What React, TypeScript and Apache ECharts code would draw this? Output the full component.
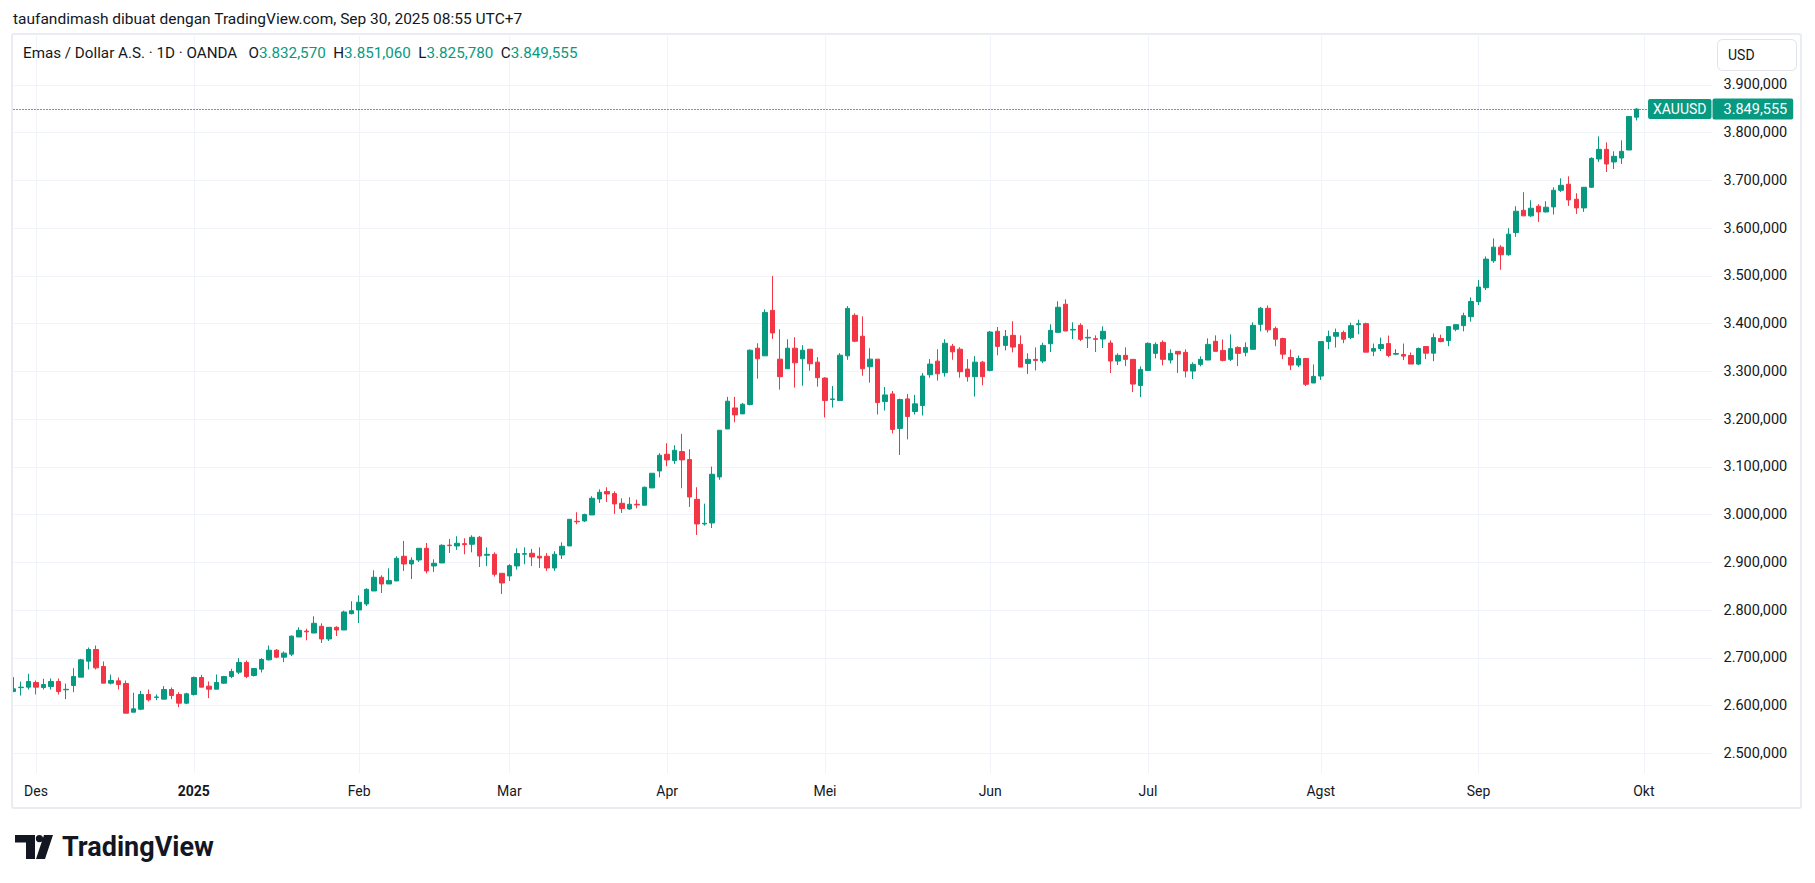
import React, { useEffect, useRef } from "react";
import * as echarts from "echarts";

// ---------- data: daily candles [open, close, low, high], XAUUSD (OANDA) ----------
const nov24 = [
  [2629.5, 2635, 2628, 2659.5], [2637.5, 2638.5, 2621, 2650], [2638.5, 2650.4, 2633.6, 2666.5],
];
const dec24 = [
  [2648.3, 2638.5, 2623.2, 2652.5], [2637.8, 2644, 2633.6, 2656], [2640, 2650.4, 2633.6, 2656.7],
  [2650.4, 2629.4, 2623.2, 2656.7], [2633, 2634, 2613.4, 2646], [2642, 2660.9, 2628, 2678.3],
  [2659.5, 2695.8, 2659.5, 2697.9], [2693, 2717.5, 2675.6, 2721.7], [2717.5, 2679, 2675.6, 2725.8],
  [2681.8, 2646.9, 2646.9, 2692.3], [2646.9, 2652.5, 2644.1, 2665], [2651.8, 2644.1, 2633.6, 2658.8],
  [2646.2, 2584, 2584, 2652.5], [2586.1, 2593.1, 2586.1, 2626.7], [2592.4, 2623.2, 2590.3, 2630.8],
  [2623.2, 2612, 2608.5, 2633.6], [2617, 2618, 2611.3, 2623.2], [2613.4, 2633.6, 2613.4, 2640.6],
  [2633.6, 2621, 2613.4, 2637.8], [2623.2, 2605, 2596.6, 2628], [2605, 2624.6, 2602.9, 2626.7],
];
const jan25 = [
  [2623.2, 2658.8, 2621, 2660.9], [2658.8, 2638.5, 2638.5, 2664.4], [2640.6, 2634.3, 2615.5, 2650.4],
  [2634.3, 2648.3, 2634.3, 2665], [2646.9, 2660.9, 2645.5, 2662], [2660.9, 2671.4, 2657.4, 2677],
  [2670, 2690.2, 2665.8, 2699.3], [2690.2, 2660.9, 2657.4, 2694.4], [2663, 2677.6, 2660.9, 2678.5],
  [2676.3, 2696.5, 2669.3, 2699.3], [2695.8, 2716, 2694.4, 2725.8], [2716, 2701.4, 2699.3, 2718.2],
  [2701.4, 2709.8, 2690.9, 2713.3], [2707.7, 2745.4, 2703.5, 2746.8], [2743.6, 2757.6, 2743.6, 2763.9],
  [2756, 2754.5, 2736.7, 2761], [2752, 2772.3, 2752, 2787], [2766, 2739.5, 2731, 2772.3],
  [2739.5, 2763.9, 2735.3, 2763.9], [2763.9, 2758.3, 2745.7, 2766], [2758.3, 2796, 2758.3, 2798.8],
  [2792.5, 2798.8, 2791, 2818.4],
];
const feb25 = [
  [2800.2, 2816.3, 2773, 2831], [2812.8, 2843.5, 2808.6, 2845.6], [2840, 2868.7, 2840, 2883.3],
  [2868.7, 2854.7, 2835.8, 2872.9], [2854.7, 2861.7, 2854.7, 2887.5], [2861, 2908.5, 2861, 2912.7],
  [2912.7, 2896.6, 2882, 2944.8], [2896.6, 2904.3, 2865.2, 2910.6], [2905, 2929.4, 2900.8, 2929.4],
  [2929.4, 2882, 2877, 2940.6], [2892.4, 2898, 2880, 2906.4], [2898.7, 2935.7, 2898.7, 2937.8],
  [2936, 2935, 2919.7, 2949], [2934.3, 2940, 2926, 2954.6], [2939.2, 2937, 2917, 2950.4],
  [2937.8, 2952.5, 2921, 2956.7], [2952.5, 2913.4, 2890.3, 2955.3], [2914.8, 2916.9, 2892.4, 2931.5],
  [2916.9, 2875, 2870.1, 2921], [2877, 2856.8, 2833.8, 2877],
];
const mar25 = [
  [2871.5, 2893.1, 2861, 2896], [2892.4, 2918.3, 2884.7, 2929.4], [2917, 2918.3, 2896, 2931.5],
  [2919, 2911.3, 2892.4, 2928], [2912.7, 2909.2, 2888.2, 2931.5], [2912.7, 2888.2, 2882, 2919.7],
  [2888.2, 2916.9, 2882, 2923.2], [2915.5, 2933.6, 2907, 2942], [2934.3, 2990.2, 2934.3, 2990.2],
  [2986, 2985, 2979.7, 3004.9], [2986.7, 3000, 2984.6, 3002], [2999.3, 3034.2, 2999.3, 3038.4],
  [3032.8, 3046.8, 3024.4, 3053], [3048.2, 3043.3, 3026.5, 3057.3], [3044, 3022.4, 3001.4, 3048.9],
  [3023.7, 3012.6, 3003.5, 3034.2], [3011.9, 3021.6, 3009.8, 3036.3], [3021.6, 3020.3, 3013.3, 3031.4],
  [3019.6, 3057.3, 3019.6, 3058.7], [3055.9, 3086.6, 3055.9, 3086.6], [3091.5, 3124.3, 3078.2, 3128.5],
];
const apr25 = [
  [3126.4, 3114.6, 3101.3, 3149.5], [3113.2, 3134.8, 3106.2, 3145.3], [3132, 3114.6, 3055.2, 3169],
  [3115.3, 3037, 3016, 3137], [3032, 2980.4, 2957.4, 3057.3], [2980.4, 2981.8, 2977, 3023],
  [2982.5, 3084.5, 2972, 3100.6], [3079, 3176.7, 3073, 3176.7], [3179.5, 3237.5, 3179.5, 3246.6],
  [3223.5, 3208.9, 3193.5, 3246.6], [3211, 3231.2, 3211, 3234], [3230.6, 3344.4, 3229, 3346],
  [3348.6, 3326.4, 3284.7, 3359], [3332.6, 3423.6, 3332.6, 3429.9], [3427.8, 3380.6, 3368, 3500],
  [3325.7, 3288.9, 3261.8, 3388.2], [3305.6, 3348.6, 3305.6, 3367.4], [3348.6, 3318, 3266, 3371.5],
  [3326.4, 3344.4, 3270.1, 3354.9], [3346.5, 3316, 3301.4, 3346.5], [3319.4, 3286.8, 3268, 3329.9],
];
const may25 = [
  [3286, 3238.9, 3203.5, 3288], [3241, 3242.4, 3224.3, 3269.4], [3238.9, 3334, 3238.9, 3338.2],
  [3332.6, 3432, 3324.3, 3436.8], [3417.4, 3363.2, 3361.1, 3421.5], [3373.6, 3305.6, 3291, 3415.3],
  [3309.7, 3325.7, 3276.4, 3348.6], [3325.7, 3234.7, 3209.7, 3325.7], [3236.8, 3250.7, 3218, 3267.4],
  [3252.8, 3178.5, 3170, 3259], [3180.6, 3241, 3125, 3243], [3242.4, 3205.6, 3157.6, 3252.8],
  [3216, 3232, 3209.7, 3250.7], [3228.5, 3290.3, 3207.6, 3296.5], [3293, 3315.3, 3286.8, 3325.7],
  [3321.5, 3295, 3280.6, 3346.5], [3297.2, 3359, 3289, 3367.4], [3352.8, 3341, 3324.3, 3357.6],
  [3346.5, 3299.3, 3286.8, 3350.7], [3304.9, 3288.9, 3278.5, 3325.7], [3288.9, 3319.4, 3247.2, 3332],
  [3319.4, 3288.9, 3271, 3322],
];
const jun25 = [
  [3302, 3382.5, 3300, 3384.6], [3384, 3352.4, 3333.6, 3393], [3354.5, 3373.4, 3344, 3386.7],
  [3375.5, 3351, 3339.9, 3404.9], [3356.6, 3309, 3309, 3375.5], [3316.8, 3325.2, 3294.4, 3337.8],
  [3325.2, 3323, 3302, 3350.3], [3321.7, 3354.5, 3317.5, 3360.1], [3358, 3386, 3340.6, 3398.6],
  [3381.8, 3434.3, 3381.8, 3446.9], [3440.6, 3384.6, 3384.6, 3451], [3386.7, 3388, 3367.8, 3402.8],
  [3396.5, 3367.1, 3363.6, 3400.7], [3370, 3371.3, 3349, 3388.1], [3368.5, 3367.1, 3340.6, 3375.5],
  [3367.8, 3384, 3349, 3394.4], [3359.4, 3321.7, 3296.5, 3365], [3321.7, 3333.6, 3313.3, 3337.8],
  [3333.6, 3325.2, 3311.2, 3350.3], [3325.2, 3273.4, 3256.6, 3325.2], [3270.6, 3304.2, 3246.2, 3310.5],
];
const jul25 = [
  [3302, 3358.7, 3302, 3360.8], [3337.8, 3356.6, 3327.3, 3360.8], [3360.8, 3325.2, 3312.6, 3365],
  [3323.8, 3337.8, 3316.8, 3346.2], [3342, 3336.4, 3296.5, 3342], [3339.9, 3300.7, 3287.4, 3346.2],
  [3300.7, 3314.7, 3284, 3318.9], [3314.7, 3325.2, 3310.5, 3331.5], [3323.8, 3356.6, 3323.8, 3369.2],
  [3363, 3342, 3342, 3375.5], [3344, 3323, 3321, 3367], [3325.2, 3347.6, 3321.7, 3377.6],
  [3350.3, 3337.8, 3311.2, 3352.4], [3339.9, 3350.3, 3331.5, 3360.8], [3346.2, 3396.5, 3346.2, 3402.8],
  [3398.6, 3432.2, 3384, 3435], [3432.2, 3387, 3381.5, 3438], [3389.6, 3367.4, 3352.8, 3393.8],
  [3368.8, 3336.1, 3325.7, 3370.8], [3329.2, 3313.2, 3302.8, 3345.8], [3313.2, 3327.1, 3309, 3333.3],
  [3327.1, 3272.9, 3269.4, 3327.1], [3275.7, 3289.6, 3275.7, 3314.6],
];
const aug25 = [
  [3290.3, 3362.5, 3282, 3362.5], [3362.5, 3372.9, 3346.5, 3385.4], [3373.6, 3381.3, 3350, 3389.6],
  [3381.3, 3367.4, 3359, 3385.4], [3370.8, 3395.8, 3367.4, 3402], [3398, 3400, 3377.8, 3408.3],
  [3400, 3340.3, 3340.3, 3402], [3342.4, 3347.9, 3332, 3358.3], [3347.9, 3356.3, 3342.4, 3370.8],
  [3358.3, 3333.3, 3329.9, 3375], [3336.1, 3337.5, 3334, 3346.5], [3335.4, 3332, 3323.6, 3358.3],
  [3333.3, 3315.3, 3315.3, 3339.6], [3315.3, 3347.9, 3313.2, 3350], [3352, 3338.2, 3325.7, 3352],
  [3338.2, 3370.8, 3321.5, 3379.2], [3368.8, 3362.5, 3361, 3377], [3364.6, 3393.8, 3352.8, 3393.8],
  [3388.2, 3397.9, 3384, 3397.9], [3395.8, 3416.7, 3384, 3422.9], [3414.6, 3446.5, 3404.2, 3455],
];
const sep25 = [
  [3446, 3476.7, 3439, 3491.3], [3475.3, 3535.2, 3470.4, 3540.8], [3531.7, 3560.3, 3527.5, 3578.4],
  [3560.3, 3544.3, 3512.9, 3564.5], [3544.3, 3587.5, 3542.2, 3600], [3590.9, 3635.5, 3581.9, 3646],
  [3637.6, 3625.8, 3625.8, 3675.3], [3625.8, 3641.8, 3623.7, 3658.5], [3646, 3634.1, 3613.2, 3650.2],
  [3634.1, 3643.9, 3632.8, 3656.4], [3644.6, 3679.4, 3628.6, 3685.7], [3679.4, 3689.9, 3676, 3704.5],
  [3692, 3659.2, 3646.7, 3708.7], [3660.6, 3642.5, 3630, 3673.2], [3642.5, 3685.7, 3634.1, 3686],
  [3685.7, 3746.3, 3684.3, 3748.4], [3745, 3765.2, 3738.7, 3792.3], [3765.2, 3734.5, 3717.8, 3779.8],
  [3738.7, 3750.5, 3724, 3761], [3747, 3761, 3734.5, 3784], [3763.8, 3834.1, 3763.8, 3834.1],
  [3832.57, 3849.555, 3825.78, 3851.06],
];

// tick labels
const PRICE_TICKS = [2500, 2600, 2700, 2800, 2900, 3000, 3100, 3200, 3300, 3400, 3500, 3600, 3700, 3800, 3900];
const MONTH_LABELS: Record<string, string> = {
  "2024-12": "Des", "2025-01": "2025", "2025-02": "Feb", "2025-03": "Mar", "2025-04": "Apr",
  "2025-05": "Mei", "2025-06": "Jun", "2025-07": "Jul", "2025-08": "Agst", "2025-09": "Sep", "2025-10": "Okt",
};
const HOLIDAYS = ["2024-12-25", "2025-01-01", "2025-04-18"];

const HEADER = "taufandimash dibuat dengan TradingView.com, Sep 30, 2025 08:55 UTC+7";
const SYMBOL_TITLE = "Emas / Dollar A.S. · 1D · OANDA";
const TICKER = "XAUUSD";

// ---------- helpers ----------
function tradingDays(start: string, end: string): string[] {
  const out: string[] = [];
  const d = new Date(start + "T00:00:00Z");
  const e = new Date(end + "T00:00:00Z");
  while (d <= e) {
    const wd = d.getUTCDay();
    const s = d.toISOString().slice(0, 10);
    if (wd !== 0 && wd !== 6 && HOLIDAYS.indexOf(s) < 0) out.push(s);
    d.setUTCDate(d.getUTCDate() + 1);
  }
  return out;
}
const dates = tradingDays("2024-11-27", "2025-10-14");
const candles = [...nov24, ...dec24, ...jan25, ...feb25, ...mar25, ...apr25, ...may25, ...jun25, ...jul25, ...aug25, ...sep25];

const fmt = (v: number) => {
  const [i, d] = v.toFixed(3).split(".");
  return i.replace(/\B(?=(\d{3})+(?!\d))/g, ".") + "," + d;
};
const isMonthStart = (i: number) => i > 0 && dates[i].slice(0, 7) !== dates[i - 1].slice(0, 7);

const UP = "#089981";
const DOWN = "#F23645";
const TEXT = "#131722";
const GRID = "#f0f3fa";
const FONT = "Roboto, 'Liberation Sans', sans-serif";

echarts.graphic.registerShape(
  "tvLogo",
  echarts.graphic.extendPath(
    "M0 0H20V24H11V7.5H0Z M29 0H38L30 24H21Z M28 3.6A3.6 3.6 0 1 1 20.8 3.6A3.6 3.6 0 1 1 28 3.6Z",
    {}
  ) as any
);

export default function App() {
  const ref = useRef<HTMLDivElement>(null);

  useEffect(() => {
    if (!ref.current) return;
    const chart = echarts.init(ref.current, null, { renderer: "svg" });
    const last = sep25[sep25.length - 1];
    const [lo, lc, ll, lh] = last;
    const valColor = lc >= lo ? UP : DOWN;

    const option: any = {
      animation: false,
      backgroundColor: "#ffffff",
      grid: { left: 13.5, top: 36, width: 1698, height: 737 },
      xAxis: {
        type: "category",
        data: dates,
        boundaryGap: false,
        axisLine: { show: false },
        axisTick: { show: false },
        axisLabel: {
          interval: (i: number) => isMonthStart(i),
          formatter: (v: string) => {
            const m = MONTH_LABELS[v.slice(0, 7)] || "";
            return v.slice(5, 7) === "01" ? "{b|" + m + "}" : m;
          },
          margin: 11,
          color: TEXT,
          fontSize: 14,
          fontFamily: FONT,
          rich: { b: { fontWeight: "bold", fontSize: 14, color: TEXT, fontFamily: FONT } },
        },
        splitLine: { show: true, interval: (i: number) => isMonthStart(i), lineStyle: { color: GRID, width: 1 } },
      },
      yAxis: {
        type: "value",
        position: "right",
        min: 2458.7,
        max: 4002.6,
        axisLine: { show: false },
        axisTick: { show: false, customValues: PRICE_TICKS },
        axisLabel: { customValues: PRICE_TICKS, formatter: (v: number) => fmt(v), margin: 12, color: TEXT, fontSize: 14.5, fontFamily: FONT },
        splitLine: { show: true, lineStyle: { color: GRID, width: 1 } },
      },
      series: [
        {
          type: "candlestick",
          data: candles,
          barWidth: 5,
          itemStyle: { color: UP, color0: DOWN, borderColor: UP, borderColor0: DOWN, borderWidth: 1 },
          markLine: {
            silent: true,
            symbol: ["none", "none"],
            animation: false,
            data: [
              {
                yAxis: lc,
                lineStyle: { color: UP, type: [1, 2], width: 1 },
                label: {
                  show: true, position: "end", distance: 1, formatter: () => fmt(lc),
                  color: "#ffffff", backgroundColor: UP, padding: [3, 6, 3, 11], fontSize: 14.5, fontFamily: FONT, borderRadius: 2,
                },
              },
              {
                yAxis: lc,
                lineStyle: { color: UP, type: [1, 2], width: 1 },
                label: {
                  show: true, position: "insideEnd", distance: 0, formatter: TICKER,
                  color: "#ffffff", backgroundColor: UP, padding: [3, 5, 3, 5], fontSize: 14, fontFamily: FONT, borderRadius: 2,
                },
              },
            ],
          },
        },
      ],
      graphic: [
        {
          type: "rect", z: 100, silent: true,
          shape: { x: 12, y: 34, width: 1789, height: 774, r: 2 },
          style: { fill: "none", stroke: "#e9ecf1", lineWidth: 2 },
        },
        {
          type: "text", x: 13, y: 19, z: 100,
          style: { text: HEADER, fill: TEXT, font: `15.5px ${FONT}`, textVerticalAlign: "middle" },
        },
        {
          type: "text", x: 23, y: 53, z: 100,
          style: {
            text: `{t|${SYMBOL_TITLE}}   {k|O}{v|${fmt(lo)}}  {k|H}{v|${fmt(lh)}}  {k|L}{v|${fmt(ll)}}  {k|C}{v|${fmt(lc)}}`,
            font: `15.2px ${FONT}`,
            fill: TEXT,
            textVerticalAlign: "middle",
            rich: {
              t: { fill: TEXT, font: `15.2px ${FONT}` },
              k: { fill: TEXT, font: `15.2px ${FONT}` },
              v: { fill: valColor, font: `15.2px ${FONT}` },
            },
          },
        },
        {
          type: "rect", z: 100,
          shape: { x: 1717.5, y: 39.5, width: 79, height: 31, r: 5 },
          style: { fill: "#ffffff", stroke: "#e0e3eb", lineWidth: 1 },
        },
        {
          type: "text", x: 1728, y: 55, z: 101,
          style: { text: "USD", fill: TEXT, font: `14px ${FONT}`, textVerticalAlign: "middle" },
        },
        {
          type: "tvLogo", x: 15, y: 835, z: 100,
          style: { fill: TEXT },
        },
        {
          type: "text", x: 62, y: 847, z: 100,
          style: { text: "TradingView", fill: TEXT, font: `bold 27px ${FONT}`, textVerticalAlign: "middle" },
        },
      ],
    };
    chart.setOption(option);
    return () => chart.dispose();
  }, []);

  return (
    <div
      ref={ref}
      style={{ position: "fixed", left: 0, top: 0, width: 1815, height: 883, background: "#ffffff" }}
    />
  );
}
